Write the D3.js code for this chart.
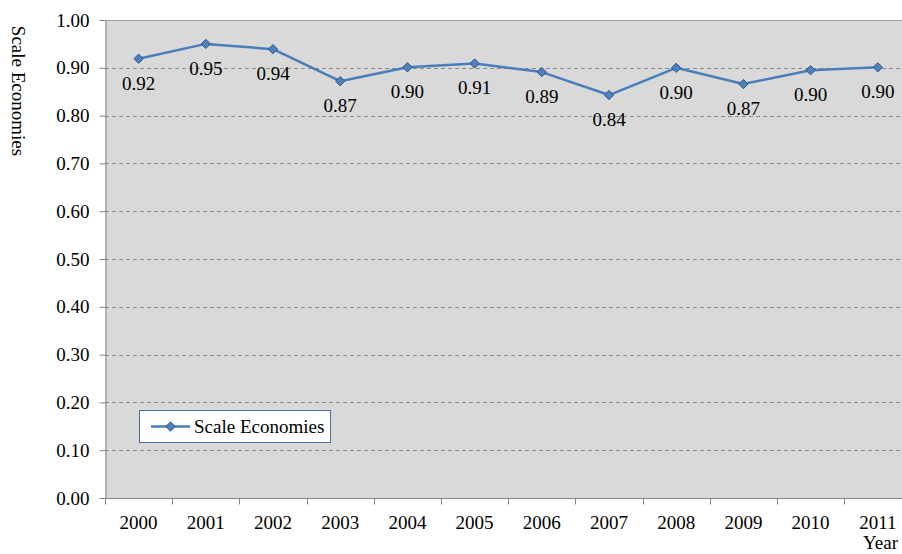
<!DOCTYPE html>
<html>
<head>
<meta charset="utf-8">
<script src="https://cdn.jsdelivr.net/npm/d3@7"></script>
<style>
  html, body { margin: 0; padding: 0; background: #fff; }
  svg { display: block; }
</style>
</head>
<body>
<div id="chart"></div>
<script>
// Annual scale economies estimates
const years = ["2000", "2001", "2002", "2003", "2004", "2005", "2006", "2007", "2008", "2009", "2010", "2011"];
const scaleEconomies = [0.919, 0.950, 0.939, 0.872, 0.901, 0.909, 0.891, 0.843, 0.900, 0.866, 0.895, 0.901];
const yTicks = [0, 0.1, 0.2, 0.3, 0.4, 0.5, 0.6, 0.7, 0.8, 0.9, 1.0];
const seriesName = "Scale Economies";
const xTitle = "Year";
const yTitle = "Scale Economies";

const FONT = "'Liberation Serif', 'Times New Roman', Times, serif";
const W = 902, H = 554;
const plot = { left: 105, top: 20, right: 911.4, bottom: 498 };

const svg = d3.select("#chart").append("svg")
  .attr("width", W).attr("height", H)
  .style("font-family", FONT);

const x = d3.scaleBand().domain(years).range([plot.left, plot.right]).padding(0);
const y = d3.scaleLinear().domain([0, 1]).range([plot.bottom, plot.top]);
const cx = d => x(d) + x.bandwidth() / 2;

// plot background
svg.append("rect")
  .attr("x", plot.left).attr("y", plot.top)
  .attr("width", plot.right - plot.left).attr("height", plot.bottom - plot.top)
  .attr("fill", "#d9d9d9");

// dashed horizontal gridlines
svg.append("g").selectAll("line")
  .data(yTicks.filter(v => v > 0 && v < 1))
  .join("line")
  .attr("x1", plot.left).attr("x2", plot.right)
  .attr("y1", d => Math.round(y(d)) + 0.5).attr("y2", d => Math.round(y(d)) + 0.5)
  .attr("stroke", "#8a8a8a").attr("stroke-width", 1)
  .attr("stroke-dasharray", "4,3");

// top border
svg.append("line")
  .attr("x1", plot.left).attr("x2", plot.right)
  .attr("y1", plot.top + 0.5).attr("y2", plot.top + 0.5)
  .attr("stroke", "#a0a0a0").attr("stroke-width", 1);

// y axis
const yAxis = svg.append("g")
  .attr("transform", `translate(${plot.left + 0.5},0)`)
  .call(d3.axisLeft(y).tickValues(yTicks).tickFormat(d3.format(".2f")).tickSize(6).tickPadding(10));
yAxis.attr("font-family", null).attr("font-size", null);
yAxis.select(".domain").attr("stroke", "#868686");
yAxis.selectAll(".tick line").attr("stroke", "#868686");
yAxis.selectAll(".tick text")
  .style("font-family", FONT)
  .style("font-size", "19px")
  .attr("fill", "#000");

// x axis with ticks at category boundaries
const xAxisG = svg.append("g").attr("transform", `translate(0,${plot.bottom + 0.5})`);
xAxisG.append("line")
  .attr("x1", plot.left).attr("x2", plot.right)
  .attr("stroke", "#868686");
xAxisG.selectAll("line.tk")
  .data(years)
  .join("line").attr("class", "tk")
  .attr("x1", d => Math.round(x(d)) + 0.5).attr("x2", d => Math.round(x(d)) + 0.5)
  .attr("y1", 0).attr("y2", 6)
  .attr("stroke", "#868686");
xAxisG.selectAll("text")
  .data(years)
  .join("text")
  .attr("x", d => cx(d)).attr("y", 30)
  .attr("text-anchor", "middle")
  .style("font-family", FONT).style("font-size", "19px")
  .text(d => d);

// line series
const line = d3.line()
  .x((d, i) => cx(years[i]))
  .y(d => y(d));
svg.append("path")
  .datum(scaleEconomies)
  .attr("d", line)
  .attr("fill", "none")
  .attr("stroke", "#4a7ebb")
  .attr("stroke-width", 2.5)
  .attr("stroke-linejoin", "round");

// diamond markers
const diamond = d3.symbol().type(d3.symbolDiamond2).size(55);
svg.append("g").selectAll("path")
  .data(scaleEconomies)
  .join("path")
  .attr("transform", (d, i) => `translate(${cx(years[i])},${y(d)})`)
  .attr("d", diamond)
  .attr("fill", "#4f81bd")
  .attr("stroke", "#2c5585")
  .attr("stroke-width", 1);

// value labels
svg.append("g").selectAll("text")
  .data(scaleEconomies)
  .join("text")
  .attr("x", (d, i) => cx(years[i]))
  .attr("y", d => y(d) + 31)
  .attr("text-anchor", "middle")
  .style("font-family", FONT).style("font-size", "19px")
  .text(d => d3.format(".2f")(d));

// axis titles
svg.append("text")
  .attr("transform", "translate(12,91) rotate(90)")
  .attr("text-anchor", "middle")
  .style("font-family", FONT).style("font-size", "19px")
  .text(yTitle);
svg.append("text")
  .attr("x", 898).attr("y", 549)
  .attr("text-anchor", "end")
  .style("font-family", FONT).style("font-size", "19px")
  .text(xTitle);

// legend
const lg = svg.append("g");
lg.append("rect")
  .attr("x", 139.5).attr("y", 410.5).attr("width", 191).attr("height", 32)
  .attr("fill", "#fff").attr("stroke", "#4f6fa3").attr("stroke-width", 1);
lg.append("line")
  .attr("x1", 151).attr("x2", 190).attr("y1", 426.5).attr("y2", 426.5)
  .attr("stroke", "#4a7ebb").attr("stroke-width", 2.5);
lg.append("path")
  .attr("transform", "translate(170.5,426.5)")
  .attr("d", diamond)
  .attr("fill", "#4f81bd").attr("stroke", "#2c5585").attr("stroke-width", 1);
lg.append("text")
  .attr("x", 194).attr("y", 433)
  .style("font-family", FONT).style("font-size", "19px")
  .text(seriesName);
</script>
</body>
</html>
